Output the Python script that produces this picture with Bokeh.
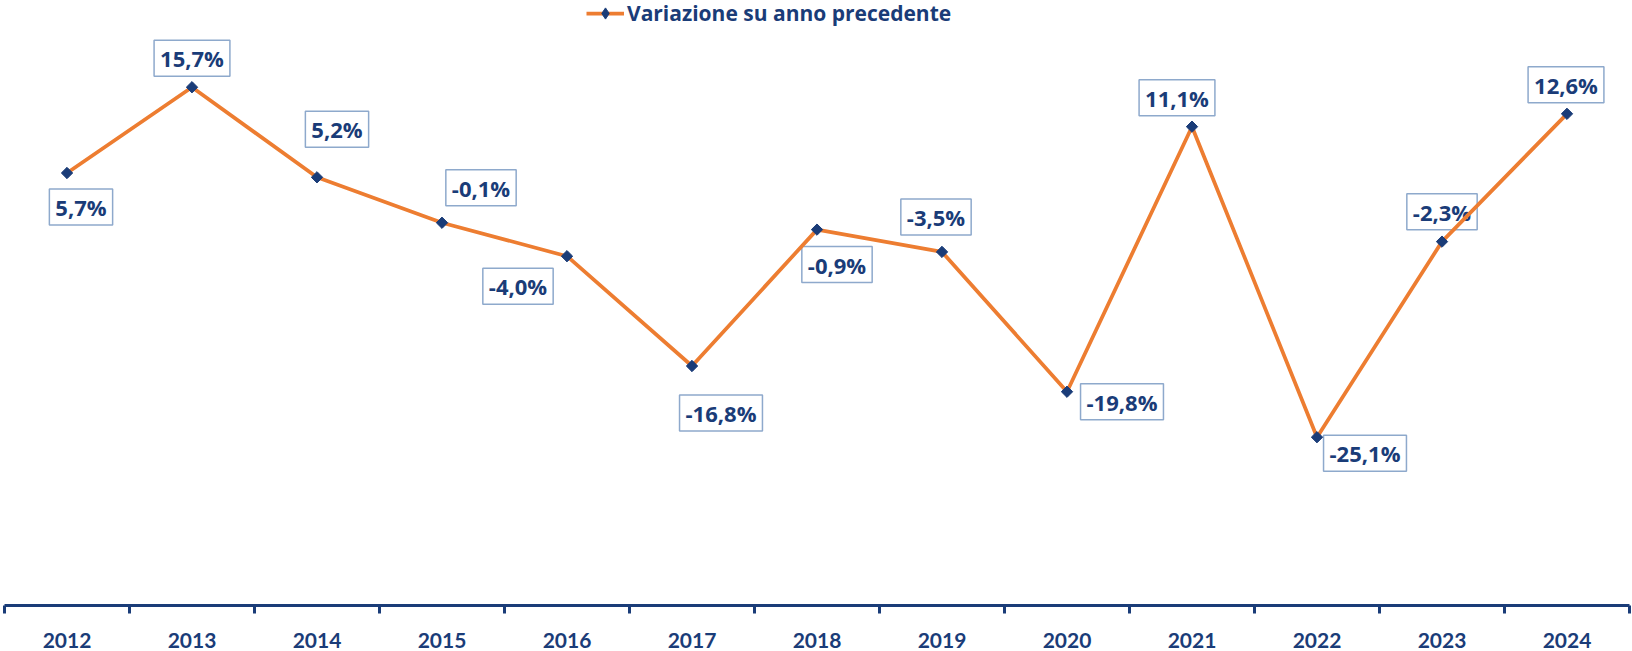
import numpy as np
from bokeh.plotting import figure
from bokeh.models import (ColumnDataSource, Label, Range1d, FixedTicker,
                          Legend, LegendItem)
from bokeh.embed import file_html
from bokeh.resources import INLINE

# ---- data ----
years = ["2012", "2013", "2014", "2015", "2016", "2017", "2018",
         "2019", "2020", "2021", "2022", "2023", "2024"]
values = [5.7, 15.7, 5.2, -0.1, -4.0, -16.8, -0.9, -3.5, -19.8, 11.1, -25.1, -2.3, 12.6]
series_name = "Variazione su anno precedente"

# ---- label placement (pixels, right / down) ----
label_dx = [14, 0, 20, 39, -49, 29, 20, -6, 55, -15, 48, 0, -1]
label_dy = [34, -29, -48, -35, 30, 47, 35, -35, 10, -29, 16, -30, -29]

NAVY = "#1A3C78"
ORANGE = "#ED7D31"
BOX = "#8EA9CC"
FONT = "Open Sans"

xs = list(range(len(years)))
labels = [f"{v:.1f}".replace(".", ",") + "%" for v in values]
src = ColumnDataSource(dict(x=xs, y=values))

p = figure(width=1632, height=651, output_backend="svg", toolbar_location=None,
           tools="", x_range=Range1d(-0.5, len(years) - 0.5),
           y_range=Range1d(-44.72, 25.81),
           min_border_left=4, min_border_right=3, min_border_top=0,
           min_border_bottom=46, y_axis_location=None)
p.outline_line_color = None
p.grid.visible = False
p.background_fill_color = "white"
p.border_fill_color = "white"

for xi, yi, txt, dx, dy in zip(xs, values, labels, label_dx, label_dy):
    p.add_layout(Label(x=xi, y=yi, text=txt, x_offset=dx, y_offset=-dy,
                       text_align="center", text_baseline="middle",
                       text_font=FONT, text_font_style="bold",
                       text_font_size="22px", text_color=NAVY,
                       background_fill_color="white",
                       border_line_color=BOX, border_line_width=1.5,
                       padding=dict(left=6, right=6, top=3, bottom=3),
                       level="underlay"))

line_r = p.line("x", "y", source=src, line_color=ORANGE, line_width=3.75)
# diamond markers (used by the legend), covered by the rotated squares below
diamond_r = p.scatter("x", "y", source=src, marker="diamond", size=8,
                      fill_color=NAVY, line_color=NAVY)
pts_r = p.scatter("x", "y", source=src, marker="square", angle=np.pi / 4,
                  size=8, fill_color=NAVY, line_color=NAVY)

ax = p.xaxis[0]
ax.ticker = FixedTicker(ticks=xs, minor_ticks=[i - 0.5 for i in range(len(years) + 1)])
ax.major_label_overrides = {i: y for i, y in enumerate(years)}
ax.axis_line_color = NAVY
ax.axis_line_width = 3
ax.major_tick_line_color = None
ax.major_tick_out = 0
ax.major_tick_in = 0
ax.minor_tick_line_color = NAVY
ax.minor_tick_line_width = 3
ax.minor_tick_out = 8
ax.minor_tick_in = 0
ax.major_label_standoff = 19
ax.major_label_text_font = "Lato"
ax.major_label_text_font_style = "bold"
ax.major_label_text_font_size = "21px"
ax.major_label_text_color = NAVY

legend = Legend(items=[LegendItem(label=series_name,
                                  renderers=[line_r, diamond_r])],
                location=(582, 578), orientation="horizontal",
                padding=0, margin=0, border_line_color=None,
                background_fill_alpha=0, glyph_width=38, glyph_height=28,
                label_standoff=3,
                label_text_font=FONT, label_text_font_style="bold",
                label_text_font_size="21px", label_text_color=NAVY)
p.add_layout(legend)

open("out.html", "w").write(file_html(p, INLINE))
